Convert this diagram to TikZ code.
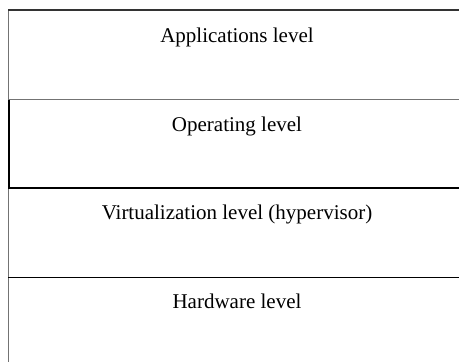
\documentclass[tikz,border=0pt]{standalone}
\usepackage{fontspec}
\setmainfont{Liberation Serif}
\begin{document}
\begin{tikzpicture}[x=1pt,y=-1pt,
  lvl/.style={anchor=base,inner sep=0pt,font=\fontsize{21}{25}\selectfont},
  thinrule/.style={draw=black!55,line width=1pt},
  darkrule/.style={draw=black,line width=1.2pt},
  toprule/.style={draw=black!80,line width=2pt}]
\useasboundingbox (0,0) rectangle (459,362);
% corner coordinates
\coordinate (tl) at (8,10);
\coordinate (tr) at (459,10);
\coordinate (l1) at (8,99.5);
\coordinate (r1) at (459,99.5);
\coordinate (l2) at (8,188);
\coordinate (r2) at (459,188);
\coordinate (l3) at (8,277.5);
\coordinate (r3) at (459,277.5);
\coordinate (bl) at (8,362);
% rules
\draw[thinrule] (tl) -- (bl);
\draw[line width=2pt,draw=black] ([xshift=1pt]l1) -- ([xshift=1pt]l2);
\draw[toprule] (tl) -- (tr);
\draw[thinrule] (l1) -- (r1);
\draw[darkrule] (l2) -- (r2);
\draw[darkrule] (l3) -- (r3);
% labels
\node[lvl] (app) at (237,42) {Applications level};
\node[lvl] (os) at (237,131) {Operating level};
\node[lvl] (virt) at (237,219) {Virtualization level (hypervisor)};
\node[lvl] (hw) at (237,308) {Hardware level};
\end{tikzpicture}
\end{document}
